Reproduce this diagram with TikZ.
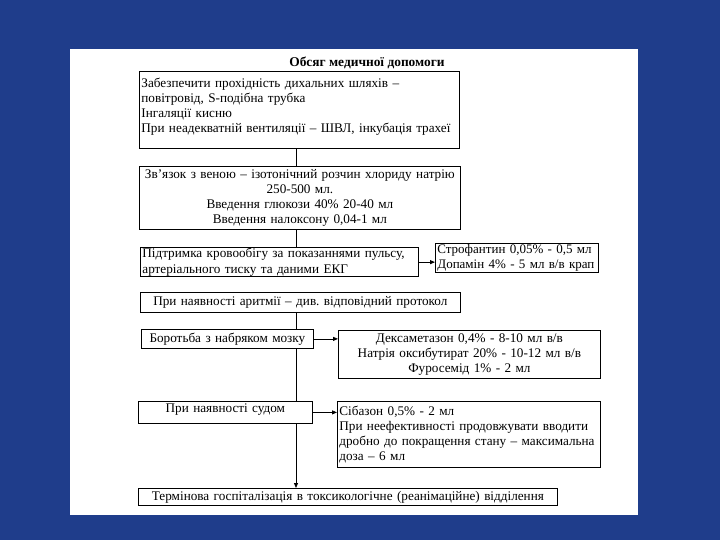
\documentclass[tikz,border=0pt]{standalone}
\usepackage{fontspec}
\setmainfont{Liberation Serif}
\usetikzlibrary{arrows.meta}
\usetikzlibrary{positioning}
\definecolor{slideblue}{RGB}{31,61,139}

\begin{document}
\begin{tikzpicture}[
  x=1pt, y=-1pt,
  every node/.style={font=\fontsize{13.2}{15.2}\selectfont},
  box/.style={
    draw, fill=white, line width=0.8pt,
    anchor=north west, inner xsep=2pt, inner ysep=1pt
  },
  arrow/.style={-{Triangle[length=5pt,width=4pt]}, line width=0.8pt}
]
\useasboundingbox (0,0) rectangle (720,540);
\fill[slideblue] (0,0) rectangle (720,540);
\fill[white] (70,49) rectangle (638,515);

% Nodes
\node[font=\fontsize{13.4}{15}\selectfont\bfseries] (title) at (367,63) {Обсяг медичної допомоги};
\node[box, text width=316pt, minimum height=77pt, align=left] (airway) at (139,71)
  {Забезпечити прохідність дихальних шляхів –\\повітровід, S-подібна трубка\\Інгаляції кисню\\При неадекватній вентиляції – ШВЛ, інкубація трахеї\\[-6pt]\mbox{}};
\node[box, text width=317pt, minimum height=63pt, align=center, inner ysep=2.5pt] (vein) at (139,166)
  {Зв’язок з веною – ізотонічний розчин хлориду натрію\\250-500 мл.\\Введення глюкози 40\% 20-40 мл\\Введення налоксону 0,04-1 мл};
\node[box, text width=274pt, minimum height=29pt, align=left] (circ) at (140,247)
  {Підтримка кровообігу за показаннями пульсу,\\артеріального тиску та даними ЕКГ};
\node[box, text width=159pt, minimum height=28pt, align=left, font=\fontsize{13}{15}\selectfont] (cardio) at (435,243)
  {Строфантин 0,05\% - 0,5 мл\\Допамін 4\% - 5 мл в/в крап};
\node[box, text width=316pt, minimum height=20pt, align=center] (arrhythm) at (140,292)
  {При наявності аритмії – див.\ відповідний протокол};
\node[box, text width=168pt, minimum height=19pt, align=center] (edema) at (141,329)
  {Боротьба з набряком мозку};
\node[box, text width=258pt, minimum height=48pt, align=center] (dexa) at (338,330)
  {Дексаметазон 0,4\% - 8-10 мл в/в\\Натрія оксибутират 20\% - 10-12 мл в/в\\Фуросемід 1\% - 2 мл};
\node[box, text width=170pt, minimum height=22pt, text depth=8pt, align=center] (seizure) at (138,401)
  {При наявності судом};
\node[box, text width=259pt, minimum height=66pt, align=left] (sibazon) at (337,401)
  {Сібазон 0,5\% - 2 мл\\При неефективності продовжувати вводити\\дробно до покращення стану – максимальна\\доза – 6 мл};
\node[box, text width=415pt, minimum height=17pt, align=center] (hosp) at (138,488)
  {Термінова госпіталізація в токсикологічне (реанімаційне) відділення};
\coordinate (spine) at (296,0);

% Arrows
\draw[line width=0.8pt] (airway.south -| spine) -- (vein.north -| spine);
\draw[line width=0.8pt] (vein.south -| spine) -- (circ.north -| spine);
\draw[arrow] (circ.east) -- (circ.east -| cardio.west);
\draw[line width=0.8pt] (arrhythm.south -| spine) -- (edema.north -| spine);
\draw[arrow] (edema.east) -- (edema.east -| dexa.west);
\draw[line width=0.8pt] (edema.south -| spine) -- (seizure.north -| spine);
\draw[arrow] (seizure.east) -- (seizure.east -| sibazon.west);
\draw[arrow] (seizure.south -| spine) -- (hosp.north -| spine);
\end{tikzpicture}
\end{document}
